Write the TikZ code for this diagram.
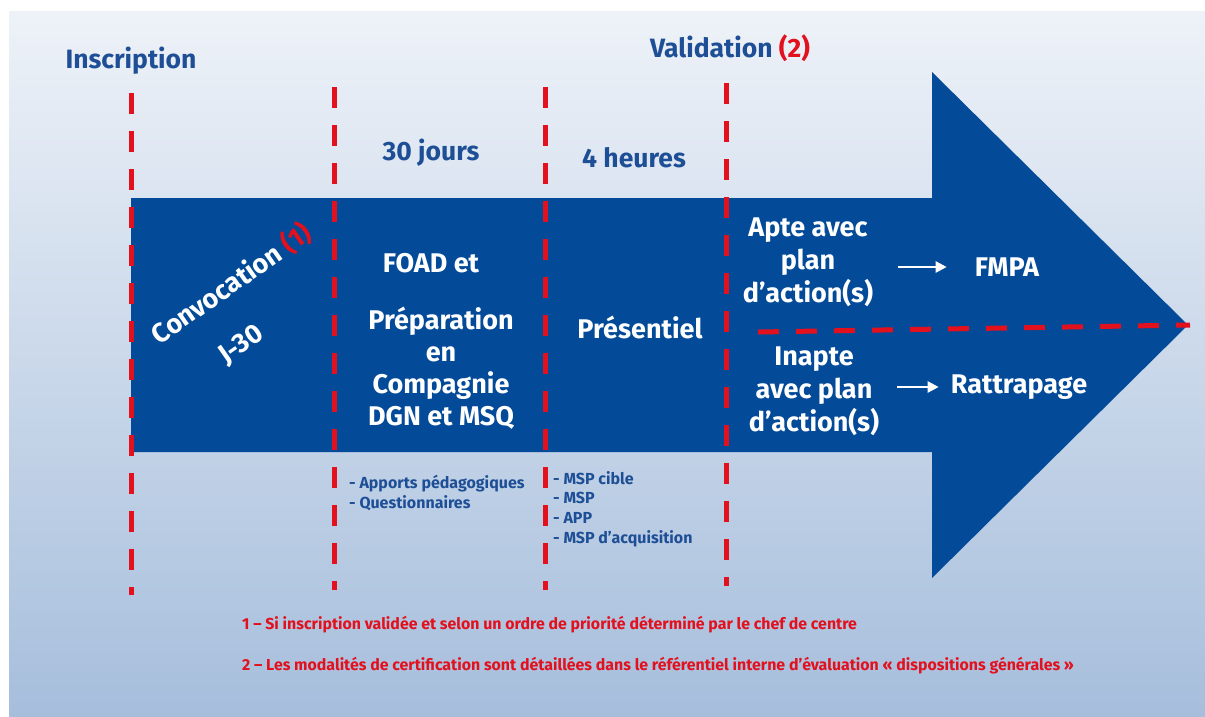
\documentclass[tikz,border=0pt]{standalone}
\usepackage{fontspec}
\setmainfont{Fira Sans}
\usetikzlibrary{arrows.meta}
\definecolor{abl}{HTML}{034A98}
\definecolor{tbl}{HTML}{1E4F96}
\definecolor{rd}{HTML}{E3101E}
\definecolor{bgt}{HTML}{EEF2F8}
\definecolor{bgb}{HTML}{A6BEDC}
\begin{document}
\begin{tikzpicture}[x=1pt,y=-1pt,
 rdash/.style={draw=rd, line width=5pt, dash pattern=on 21pt off 17pt},
 title/.style={text=tbl, font=\bfseries\fontsize{26.5}{30}\selectfont, inner sep=0pt},
 wtxt/.style={text=white, font=\bfseries\fontsize{27}{33}\selectfont, align=center, inner sep=0pt},
 small/.style={text=tbl, font=\bfseries\fontsize{16}{19.7}\selectfont, align=left, inner sep=0pt, anchor=north west},
 foot/.style={text=rd, font=\bfseries\fontsize{15.9}{18}\selectfont, inner sep=0pt, anchor=west},
 warr/.style={draw=white, line width=2.5pt, -{Triangle[length=11pt,width=11pt]}}]
\useasboundingbox (0,0) rectangle (1205,716);
\shade[top color=bgt, bottom color=bgb] (9,11) rectangle (1205,716);
% big arrow
\fill[abl] (131,198) -- (932,198) -- (932,72) -- (1188,325) -- (932,578) -- (932,452) -- (131,452) -- cycle;
% dashed dividers
\draw[rdash] (131,93) -- (131,595);
\draw[rdash] (334,87) -- (334,590);
\draw[rdash] (545,87) -- (545,590);
\draw[rdash] (726,83) -- (726,586);
\draw[rdash] (758,332) -- (1190,325);
% titles
\node[title] (insc) at (131,61) {Inscription};
\node[title] (valid) at (730,48) {Validation \textcolor{rd}{(2)}};
\node[title] (jours) at (431,153) {30 jours};
\node[title] (heures) at (634,158) {4 heures};
% convocation
\node[wtxt, rotate=35, font=\bfseries\fontsize{27}{54}\selectfont] (conv) at (247,306) {Convocation \textcolor{rd}{(1)}\\J-30\rule{54pt}{0pt}};
% middle
\node[wtxt] (foad) at (431,263) {FOAD et};
\node[wtxt, font=\bfseries\fontsize{27}{32}\selectfont] (prep) at (441,368) {Préparation\\en\\Compagnie\\DGN et MSQ};
\node[wtxt] (pres) at (640,327) {Présentiel};
% right
\node[wtxt] (apte) at (808,262) {Apte avec\\plan\\d’action(s)};
\node[wtxt] (fmpa) at (1007,267) {FMPA};
\node[wtxt] (inap) at (814,391) {Inapte\\avec plan\\d’action(s)};
\node[wtxt] (ratt) at (1019,387) {Rattrapage};
\draw[warr, shorten <=25pt, shorten >=28pt] (apte.east |- fmpa.west) -- (fmpa.west);
\draw[warr, shorten <=18pt, shorten >=12pt] (inap.east |- ratt.west) -- (ratt.west);
% small lists
\node[small] (apports) at (349,475) {{-} Apports pédagogiques\\{-} Questionnaires};
\node[small] (msp) at (553,471) {{-} MSP cible\\{-} MSP\\{-} APP\\{-} MSP d’acquisition};
% footnotes
\node[foot] (f1) at (242,625) {1 – Si inscription validée et selon un ordre de priorité déterminé par le chef de centre};
\node[foot] (f2) at (242,666) {2 – Les modalités de certification sont détaillées dans le référentiel interne d’évaluation « dispositions générales »};
\end{tikzpicture}
\end{document}
